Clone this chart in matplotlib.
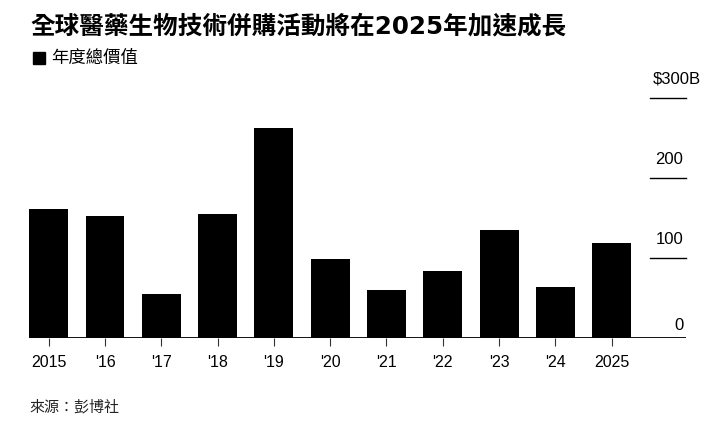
import matplotlib
matplotlib.use("Agg")
import matplotlib.pyplot as plt
import matplotlib.transforms as mtransforms
import numpy as np

# data (USD billions)
years = ["2015", "'16", "'17", "'18", "'19", "'20", "'21", "'22", "'23", "'24", "2025"]
values = [161, 152, 55, 155, 262, 98, 60, 83, 135, 63, 118]
yticks = [0, 100, 200, 300]
ytick_labels = ["0", "100", "200", "$300B"]

title = "全球醫藥生物技術併購活動將在2025年加速成長"
legend_label = "年度總價值"
source = "來源：彭博社"

cjk = ["Noto Sans CJK TC", "DejaVu Sans"]
title_fonts = ["DejaVu Sans", "Noto Sans CJK TC"]
num = ["Liberation Sans", "DejaVu Sans"]

W, H = 713, 425
fig = plt.figure(figsize=(W / 100, H / 100), dpi=100)

# axes box in pixels (left, right, bottom, top from the top edge)
left, right, bottom, top = 29, 686, 337.5, 98
ax = fig.add_axes([left / W, (H - bottom) / H, (right - left) / W, (bottom - top) / H])

x = np.arange(len(years))
ax.bar(x, values, width=0.69, color="black", zorder=2)

ax.set_xlim(-0.35, 11.32)
ax.set_ylim(0, 300)
for s in ax.spines.values():
    s.set_visible(False)
ax.axhline(0, color="black", lw=1.3, zorder=3)

ax.set_xticks(x)
ax.set_xticklabels(years, fontfamily=num, fontsize=11.5)
ax.tick_params(axis="x", length=5.5, width=0.8, color="#333333", pad=7)
ax.set_yticks([])

# short tick lines and labels on the right
trans = mtransforms.blended_transform_factory(ax.transAxes, ax.transData)
for v, lab in zip(yticks, ytick_labels):
    if v > 0:
        ax.plot([0.945, 1.0], [v, v], color="black", lw=1.0, transform=trans,
                clip_on=False)
    dy = 3 if v == 0 else 8
    dx = 11 if lab.endswith("B") else -2
    ax.annotate(lab, xy=(1.0, v), xycoords=trans, xytext=(dx, dy),
                textcoords="offset points", ha="right", va="bottom",
                fontfamily=num, fontsize=12, annotation_clip=False)

fig.text(30 / W, 1 - 26 / H, title, fontfamily=title_fonts, fontsize=17.7,
         fontweight="bold", ha="left", va="center")
fig.patches.append(plt.Rectangle((33 / W, 1 - 64 / H), 12 / W, 12 / H,
                                 transform=fig.transFigure, color="black"))
fig.text(51 / W, 1 - 58 / H, legend_label, fontfamily=cjk, fontsize=12.5,
         ha="left", va="center")
fig.text(29 / W, 1 - 407 / H, source, fontfamily=cjk, fontsize=10.8,
         ha="left", va="center", color="#222222")

fig.savefig("out.png", dpi=100)
